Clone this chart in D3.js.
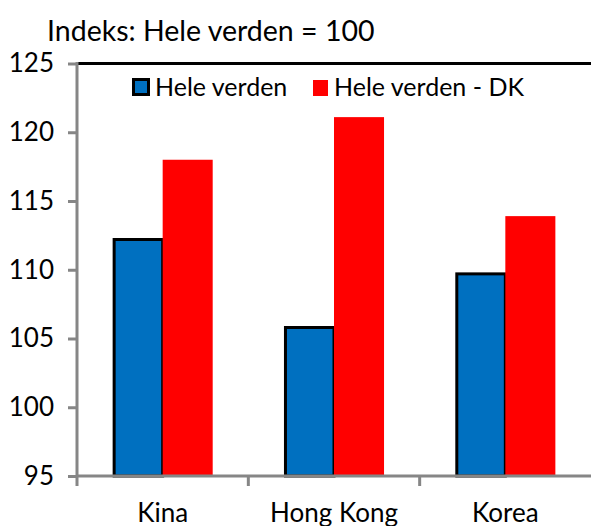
<!DOCTYPE html>
<html>
<head>
<meta charset="utf-8">
<script src="https://cdn.jsdelivr.net/npm/d3@7"></script>
<style>
  body { margin: 0; background: #fff; }
  svg { display: block; font-family: Lato, "Noto Sans", sans-serif; }
</style>
</head>
<body>
<svg id="chart"></svg>
<script>
const categories = ["Kina", "Hong Kong", "Korea"];
const series = ["Hele verden", "Hele verden - DK"];
const heleVerden = [112.2, 105.8, 109.7];
const heleVerdenDK = [118.0, 121.1, 113.9];
const yTicks = [95, 100, 105, 110, 115, 120, 125];
const title = "Indeks: Hele verden = 100";

const width = 591;
const height = 526;
const margin = {top: 63.5, right: 0, bottom: 50, left: 77};
const axisGrey = "#868686";

const color = d3.scaleOrdinal()
      .domain(series)
      .range(["#0070C0", "#FF0000"]);

const data = categories.map((c, i) => ({
  cat: c,
  values: [heleVerden[i], heleVerdenDK[i]]
}));

const svg = d3.select("#chart")
      .attr("width", width)
      .attr("height", height);

const y = d3.scaleLinear()
      .domain([95, 125])
      .range([height - margin.bottom, margin.top]);

const x0 = d3.scaleBand()
      .domain(categories)
      .range([margin.left, width - margin.right]);

const bw = x0.bandwidth();
const x1 = d3.scaleBand()
      .domain(series)
      .range([bw * 0.208, bw * 0.792]);

// title
svg.append("text")
  .attr("x", 47)
  .attr("y", 41)
  .attr("font-size", 28.5)
  .attr("fill", "#000")
  .text(title);

// bars
const groups = svg.append("g")
  .selectAll("g")
  .data(data)
  .enter().append("g")
  .attr("transform", d => `translate(${x0(d.cat)},0)`);

groups.selectAll("rect")
  .data(d => d.values.map((v, i) => ({key: series[i], value: v})))
  .enter().append("rect")
  .attr("x", d => x1(d.key) + (d.key === series[0] ? 1.5 : 0))
  .attr("width", d => x1.bandwidth() - (d.key === series[0] ? 1.5 : 0))
  .attr("y", d => y(d.value))
  .attr("height", d => y(95) - y(d.value))
  .attr("fill", d => color(d.key))
  .attr("stroke", d => d.key === series[0] ? "#000" : "none")
  .attr("stroke-width", 3);

// top border line
svg.append("line")
  .attr("x1", margin.left)
  .attr("x2", width)
  .attr("y1", y(125))
  .attr("y2", y(125))
  .attr("stroke", "#000")
  .attr("stroke-width", 3);

// y axis
const yAxis = g => g
  .attr("transform", `translate(${margin.left},0)`)
  .call(d3.axisLeft(y).tickValues(yTicks).tickSize(9).tickPadding(14))
  .call(g => g.select(".domain").remove())
  .call(g => g.selectAll(".tick line").attr("stroke", axisGrey).attr("stroke-width", 3))
  .call(g => g.selectAll("text").attr("font-size", 26).attr("fill", "#000")
        .attr("font-family", "Lato, 'Noto Sans', sans-serif"));

svg.append("g").call(yAxis);

svg.append("line")
  .attr("x1", margin.left)
  .attr("x2", margin.left)
  .attr("y1", y(125) - 1.5)
  .attr("y2", y(95) + 10)
  .attr("stroke", axisGrey)
  .attr("stroke-width", 3);

// x axis
const xAxis = g => g
  .attr("transform", `translate(0,${y(95)})`)
  .call(d3.axisBottom(x0).tickSize(0).tickPadding(28))
  .call(g => g.select(".domain").remove())
  .call(g => g.selectAll("text").attr("font-size", 26).attr("fill", "#000")
        .attr("font-family", "Lato, 'Noto Sans', sans-serif"));

svg.append("g").call(xAxis);

svg.append("line")
  .attr("x1", margin.left)
  .attr("x2", width)
  .attr("y1", y(95))
  .attr("y2", y(95))
  .attr("stroke", axisGrey)
  .attr("stroke-width", 3);

svg.append("g")
  .selectAll("line")
  .data(categories.slice(1))
  .enter().append("line")
  .attr("x1", d => x0(d))
  .attr("x2", d => x0(d))
  .attr("y1", y(95))
  .attr("y2", y(95) + 10)
  .attr("stroke", axisGrey)
  .attr("stroke-width", 3);

// legend
const legend = svg.append("g")
  .selectAll("g")
  .data(series)
  .enter().append("g")
  .attr("transform", (d, i) => `translate(${[132, 313][i]},78)`);

legend.append("rect")
  .attr("x", d => d === series[0] ? 1.5 : 0)
  .attr("y", d => d === series[0] ? 1.5 : 2)
  .attr("width", d => d === series[0] ? 15 : 15)
  .attr("height", d => d === series[0] ? 15 : 16)
  .attr("fill", color)
  .attr("stroke", d => d === series[0] ? "#000" : "none")
  .attr("stroke-width", 3);

legend.append("text")
  .attr("x", d => d === series[0] ? 23 : 21)
  .attr("y", 18)
  .attr("font-size", 25)
  .attr("fill", "#000")
  .text(d => d);
</script>
</body>
</html>
